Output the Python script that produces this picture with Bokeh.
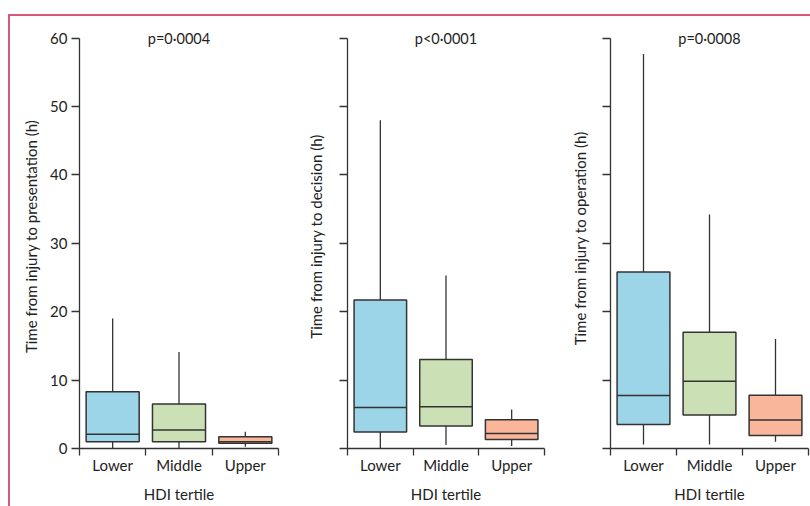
from bokeh.plotting import figure
from bokeh.models import Range1d, FixedTicker, Label, Spacer
from bokeh.layouts import row, column
from bokeh.embed import file_html
from bokeh.resources import INLINE

categories = ["Lower", "Middle", "Upper"]
colors = ["#9dd5e8", "#cbe1b5", "#f9b69b"]

p_values = ["p=0·0004", "p<0·0001", "p=0·0008"]
y_labels = ["Time from injury to presentation (h)",
            "Time from injury to decision (h)",
            "Time from injury to operation  (h)"]
y_ticks = [0, 10, 20, 30, 40, 50, 60]

# presentation
pres_low = [0.0, 0.0, 0.25]
pres_q1 = [1.0, 1.0, 0.75]
pres_med = [2.1, 2.7, 1.0]
pres_q3 = [8.3, 6.5, 1.7]
pres_high = [19.0, 14.1, 2.45]

# decision
dec_low = [0.0, 0.5, 0.35]
dec_q1 = [2.4, 3.3, 1.3]
dec_med = [6.0, 6.1, 2.2]
dec_q3 = [21.7, 13.0, 4.2]
dec_high = [48.0, 25.3, 5.7]

# operation
op_low = [0.6, 0.6, 1.0]
op_q1 = [3.5, 4.9, 1.9]
op_med = [7.75, 9.85, 4.15]
op_q3 = [25.8, 17.0, 7.8]
op_high = [57.7, 34.2, 16.0]

panels = [
    (pres_low, pres_q1, pres_med, pres_q3, pres_high),
    (dec_low, dec_q1, dec_med, dec_q3, dec_high),
    (op_low, op_q1, op_med, op_q3, op_high),
]

FONT = "Lato"
TXT = "#222222"
LINE = "#333333"
PINK = "#d6587b"

frame_w = [199, 197, 198]
borders_left = [69, 57, 58]
borders_right = [12, 8, 2]
standoffs = [7, 15, 14]

figs = []
for k, (lo, q1, med, q3, hi) in enumerate(panels):
    p = figure(frame_width=frame_w[k], frame_height=424, output_backend="svg",
               toolbar_location=None,
               x_range=Range1d(0, 3), y_range=Range1d(0, 62),
               min_border_left=borders_left[k], min_border_right=borders_right[k],
               min_border_top=8, min_border_bottom=58)
    p.outline_line_color = None
    p.xgrid.visible = False
    p.ygrid.visible = False
    p.background_fill_color = None
    p.border_fill_color = None

    xs = [i + 0.5 for i in range(len(categories))]
    left = [x - 0.4 for x in xs]
    right = [x + 0.4 for x in xs]

    p.segment(x0=xs, x1=xs, y0=lo, y1=q1, line_color=LINE, line_width=1.3)
    p.segment(x0=xs, x1=xs, y0=q3, y1=hi, line_color=LINE, line_width=1.3)
    p.quad(left=left, right=right, bottom=q1, top=q3, fill_color=colors,
           line_color=LINE, line_width=1.5)
    p.segment(x0=left, x1=right, y0=med, y1=med, line_color=LINE, line_width=1.5)

    # x axis: tick marks between categories, labels at category centres
    xa = p.xaxis[0]
    xa.ticker = FixedTicker(ticks=xs, minor_ticks=[0, 1, 2, 3])
    xa.major_label_overrides = {x: c for x, c in zip(xs, categories)}
    xa.major_tick_in = 0
    xa.major_tick_out = 0
    xa.minor_tick_in = 0
    xa.minor_tick_out = 7
    xa.minor_tick_line_color = LINE
    xa.minor_tick_line_width = 1.3
    xa.axis_line_color = LINE
    xa.axis_line_width = 1.3
    xa.major_label_text_font = FONT
    xa.major_label_text_font_size = "15px"
    xa.major_label_text_color = TXT
    xa.major_label_standoff = 0
    xa.axis_label = "HDI tertile"
    xa.axis_label_text_font = FONT
    xa.axis_label_text_font_size = "15px"
    xa.axis_label_text_font_style = "normal"
    xa.axis_label_text_color = TXT
    xa.axis_label_standoff = 8
    xa.bounds = (0, 3)

    ya = p.yaxis[0]
    ya.ticker = FixedTicker(ticks=y_ticks, minor_ticks=[])
    ya.bounds = (0, 60)
    ya.major_tick_in = 0
    ya.major_tick_out = 8
    ya.major_tick_line_color = LINE
    ya.major_tick_line_width = 1.3
    ya.axis_line_color = LINE
    ya.axis_line_width = 1.3
    ya.major_label_text_font = FONT
    ya.major_label_text_color = TXT
    ya.major_label_standoff = 4
    if k == 0:
        ya.major_label_text_font_size = "15px"
    else:
        ya.major_label_text_font_size = "0px"
        ya.major_label_overrides = {t: "" for t in y_ticks}
    ya.axis_label = y_labels[k]
    ya.axis_label_text_font = FONT
    ya.axis_label_text_font_size = "15px"
    ya.axis_label_text_font_style = "normal"
    ya.axis_label_text_color = TXT
    ya.axis_label_standoff = standoffs[k]

    p.add_layout(Label(x=1.5, y=60, text=p_values[k], text_align="center",
                       text_baseline="middle", text_font=FONT, text_font_size="14.5px",
                       text_color=TXT))
    figs.append(p)

pink_bg = {"background-color": PINK}
top = row(Spacer(width=8, height=2), Spacer(width=802, height=2, styles=pink_bg))
body = row([Spacer(width=8, height=490), Spacer(width=2, height=490, styles=pink_bg)] + figs)
layout = column(Spacer(width=810, height=14), top, body)

open("out.html", "w").write(file_html(layout, INLINE))
